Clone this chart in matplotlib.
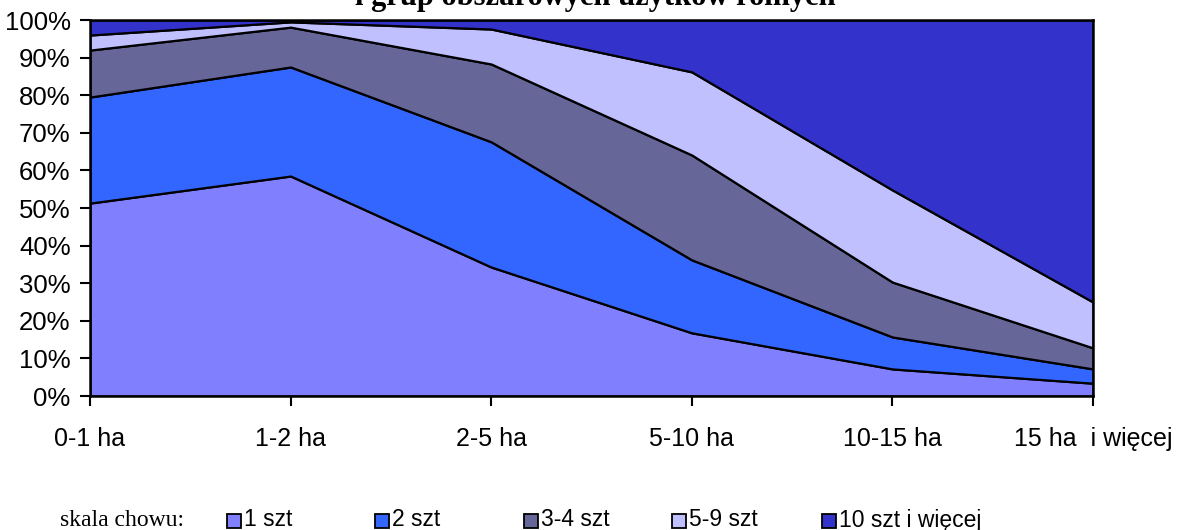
import numpy as np
import matplotlib
matplotlib.use("Agg")
import matplotlib.pyplot as plt
from matplotlib.patches import Rectangle
from matplotlib.ticker import PercentFormatter

# farm size groups
groups = ["0-1 ha", "1-2 ha", "2-5 ha", "5-10 ha", "10-15 ha", "15 ha  i więcej"]

# share of farms by herd size (percent, per group)
szt_1 = [51.3, 58.5, 34.3, 16.8, 7.2, 3.4]
szt_2 = [28.2, 29.0, 33.3, 19.4, 8.5, 3.8]
szt_3_4 = [12.5, 10.6, 20.7, 27.9, 14.6, 5.6]
szt_5_9 = [4.0, 1.4, 9.3, 22.1, 24.5, 12.2]
szt_10 = [4.0, 0.5, 2.4, 13.8, 45.2, 75.0]

series = ["1 szt", "2 szt", "3-4 szt", "5-9 szt", "10 szt i więcej"]
colors = ["#8080FF", "#3366FF", "#666699", "#C0C0FF", "#3333CC"]

fig = plt.figure(figsize=(11.95, 5.3), dpi=100)
ax = fig.add_axes([90 / 1195, 1 - 396 / 530, 1003 / 1195, 376 / 530])

x = np.arange(len(groups))
vals = np.array([szt_1, szt_2, szt_3_4, szt_5_9, szt_10]) / 100.0
vals = vals / vals.sum(axis=0)
ax.stackplot(x, vals, colors=colors, edgecolor="black", linewidth=1.6)

ax.set_xlim(0, len(groups) - 1)
ax.set_ylim(0, 1)
ax.set_yticks(np.arange(0, 1.01, 0.1))
ax.yaxis.set_major_formatter(PercentFormatter(1.0, decimals=0))
ax.set_xticks(x)
ax.set_xticklabels(groups)
ax.tick_params(axis="y", direction="out", length=7, width=1.5, pad=7,
               labelsize=18.5)
ax.tick_params(axis="x", direction="out", length=7, width=1.5, pad=15,
               labelsize=18)
for lab in ax.get_xticklabels() + ax.get_yticklabels():
    lab.set_fontfamily("Liberation Sans")
for s in ax.spines.values():
    s.set_linewidth(1.8)

# title (top line cut off in the original)
fig.text(595 / 1195, 1 - 5 / 530, "i grup obszarowych użytków rolnych",
         ha="center", va="baseline", fontsize=22, fontweight="bold",
         family="Liberation Serif")

# legend row
fig.text(60 / 1195, 1 - 520 / 530, "skala chowu:", ha="left", va="center",
         fontsize=17, family="Liberation Serif")
leg_x = [227, 375, 524, 672, 822]
for lx, name, c in zip(leg_x, series, colors):
    fig.patches.append(Rectangle((lx / 1195, (530 - 528) / 530),
                                 14 / 1195, 14 / 530,
                                 transform=fig.transFigure,
                                 facecolor=c, edgecolor="black", lw=1.3))
    fig.text((lx + 17) / 1195, 1 - 520 / 530, name, ha="left", va="center",
             fontsize=16.5, family="Liberation Sans")

fig.savefig("out.png", dpi=100)
